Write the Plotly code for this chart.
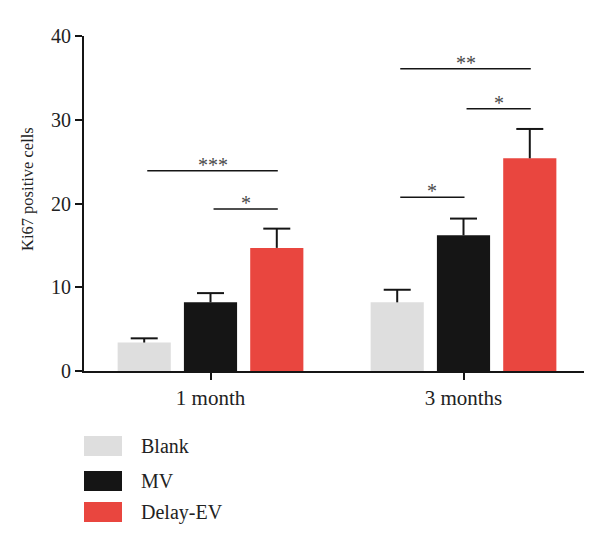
import plotly.graph_objects as go

categories = ["1 month", "3 months"]
groups = ["Blank", "MV", "Delay-EV"]
means = {
    "Blank": [3.4, 8.2],
    "MV": [8.2, 16.2],
    "Delay-EV": [14.7, 25.4],
}
errors = {
    "Blank": [0.5, 1.5],
    "MV": [1.1, 2.0],
    "Delay-EV": [2.3, 3.5],
}
colors = {"Blank": "#dedede", "MV": "#151515", "Delay-EV": "#e9463f"}

# significance: (category index, group from, group to, y value, label)
sig_cat = [0, 0, 1, 1, 1]
sig_from = [0, 1, 0, 1, 0]
sig_to = [2, 2, 2, 2, 1]
sig_y = [23.9, 19.35, 36.1, 31.3, 20.75]
sig_label = ["***", "*", "**", "*", "*"]

# page has an 8px body margin; figure sized to fill the window
OFF = 8
FW, FH = 584, 526
ML, MR, MT, MB = 76, 2, 28, 163
FONT = "Liberation Serif, Times New Roman, serif"
TXT = "#222222"
INK = "#151515"

fig = go.Figure()
for g in groups:
    fig.add_trace(go.Bar(
        name=g, x=categories, y=means[g],
        marker=dict(color=colors[g], line=dict(width=0)),
        showlegend=False,
    ))

bargap = 0.214
bargroupgap = 0.198
slot = (1 - bargap) / len(groups)
offsets = [(i - (len(groups) - 1) / 2) * slot for i in range(len(groups))]

shapes = []
annotations = []

# error bars (upper only, no cap at bar top)
for gi, g in enumerate(groups):
    for ci in range(len(categories)):
        xc = ci + offsets[gi]
        top = means[g][ci] + errors[g][ci]
        shapes.append(dict(type="line", xref="x", yref="y", x0=xc, x1=xc,
                           y0=means[g][ci], y1=top, line=dict(color=INK, width=2)))
        shapes.append(dict(type="line", xref="x", yref="y", xsizemode="pixel",
                           xanchor=xc, x0=-13.5, x1=13.5, y0=top, y1=top,
                           line=dict(color=INK, width=2)))

for c, a, b, yv, lab in zip(sig_cat, sig_from, sig_to, sig_y, sig_label):
    x0 = c + offsets[a] + 0.012
    x1 = c + offsets[b] + 0.004
    shapes.append(dict(type="line", xref="x", yref="y", x0=x0, x1=x1, y0=yv, y1=yv,
                       line=dict(color=INK, width=1.5)))
    annotations.append(dict(x=(x0 + x1) / 2, y=yv, xref="x", yref="y", text=lab,
                            showarrow=False, yanchor="bottom", yshift=-7,
                            font=dict(family=FONT, size=20, color="#4a4a4a")))

pw = FW - ML - MR
ph = FH - MT - MB
plot_left = OFF + ML
plot_bottom = OFF + FH - MB


def px_x(p):
    return (p - plot_left) / pw


def px_y(p):
    return (plot_bottom - p) / ph


# y-axis title
annotations.append(dict(x=px_x(27), y=px_y(189), xref="paper", yref="paper",
                        text="Ki67 positive cells", textangle=-90, showarrow=False,
                        xanchor="center", yanchor="middle",
                        font=dict(family=FONT, size=16.5, color=TXT)))

# legend
leg_y = [446, 481, 512]
for g, yc in zip(groups, leg_y):
    shapes.append(dict(type="rect", xref="paper", yref="paper",
                       x0=px_x(84), x1=px_x(122), y0=px_y(yc - 10), y1=px_y(yc + 10),
                       fillcolor=colors[g], line=dict(width=0)))
    annotations.append(dict(x=px_x(139), y=px_y(yc), xref="paper", yref="paper",
                            text=g, showarrow=False, xanchor="left", yanchor="middle",
                            font=dict(family=FONT, size=20, color=TXT)))

fig.update_layout(
    width=FW, height=FH,
    margin=dict(l=ML, r=MR, t=MT, b=MB),
    paper_bgcolor="white", plot_bgcolor="white",
    barmode="group", bargap=bargap, bargroupgap=bargroupgap,
    font=dict(family=FONT, size=20, color=TXT),
    shapes=shapes, annotations=annotations,
    xaxis=dict(range=[-0.5, 1.5], showline=True, linecolor=INK, linewidth=2,
               ticks="outside", ticklen=7, tickwidth=2, tickcolor=INK,
               showgrid=False, zeroline=False,
               tickfont=dict(family=FONT, size=21, color=TXT)),
    yaxis=dict(range=[0, 40], tickvals=[0, 10, 20, 30, 40], showline=True,
               linecolor=INK, linewidth=2, ticks="outside", ticklen=7,
               tickwidth=2, tickcolor=INK, showgrid=False, zeroline=False,
               tickfont=dict(family=FONT, size=20, color=TXT)),
)

fig.write_html("out.html")
